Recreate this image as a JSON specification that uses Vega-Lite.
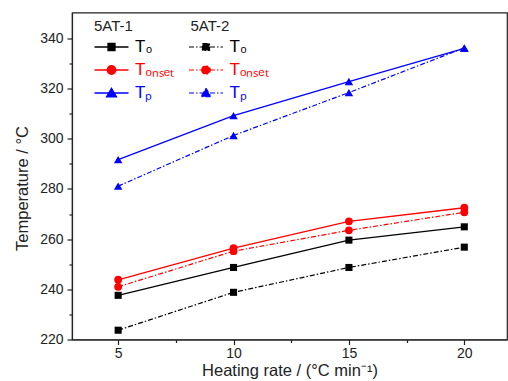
{
  "$schema": "https://vega.github.io/schema/vega-lite/v6.json",
  "width": 435,
  "height": 327,
  "autosize": "none",
  "padding": {"left": 72, "top": 12.5, "right": 1, "bottom": 41.5},
  "background": "white",
  "config": {
    "font": "Liberation Sans",
    "view": {"stroke": "#222", "strokeWidth": 1.2},
    "axis": {"grid": false, "domainColor": "#222", "tickColor": "#222", "labelColor": "#222", "titleColor": "#222", "domainWidth": 1.2, "tickWidth": 1.2, "labelFont": "Liberation Sans", "titleFont": "Liberation Sans", "titleFontWeight": "normal"},
    "legend": {"titleFont": "Liberation Sans", "titleFontWeight": 400, "labelFont": "Liberation Sans"}
  },
  "data": {
    "values": [
      {"rate": 5, "param": "T0", "sample": "5AT-1", "temp": 237.6},
      {"rate": 10, "param": "T0", "sample": "5AT-1", "temp": 248.7},
      {"rate": 15, "param": "T0", "sample": "5AT-1", "temp": 259.6},
      {"rate": 20, "param": "T0", "sample": "5AT-1", "temp": 264.9},
      {"rate": 5, "param": "Tonset", "sample": "5AT-1", "temp": 243.8},
      {"rate": 10, "param": "Tonset", "sample": "5AT-1", "temp": 256.4},
      {"rate": 15, "param": "Tonset", "sample": "5AT-1", "temp": 267.1},
      {"rate": 20, "param": "Tonset", "sample": "5AT-1", "temp": 272.5},
      {"rate": 5, "param": "Tp", "sample": "5AT-1", "temp": 291.7},
      {"rate": 10, "param": "Tp", "sample": "5AT-1", "temp": 309.2},
      {"rate": 15, "param": "Tp", "sample": "5AT-1", "temp": 322.8},
      {"rate": 20, "param": "Tp", "sample": "5AT-1", "temp": 336.0},
      {"rate": 5, "param": "T0", "sample": "5AT-2", "temp": 223.7},
      {"rate": 10, "param": "T0", "sample": "5AT-2", "temp": 238.8},
      {"rate": 15, "param": "T0", "sample": "5AT-2", "temp": 248.7},
      {"rate": 20, "param": "T0", "sample": "5AT-2", "temp": 256.8},
      {"rate": 5, "param": "Tonset", "sample": "5AT-2", "temp": 241.0},
      {"rate": 10, "param": "Tonset", "sample": "5AT-2", "temp": 255.2},
      {"rate": 15, "param": "Tonset", "sample": "5AT-2", "temp": 263.5},
      {"rate": 20, "param": "Tonset", "sample": "5AT-2", "temp": 270.7},
      {"rate": 5, "param": "Tp", "sample": "5AT-2", "temp": 281.1},
      {"rate": 10, "param": "Tp", "sample": "5AT-2", "temp": 301.3},
      {"rate": 15, "param": "Tp", "sample": "5AT-2", "temp": 318.4},
      {"rate": 20, "param": "Tp", "sample": "5AT-2", "temp": 336.2}
    ]
  },
  "encoding": {
    "x": {
      "field": "rate", "type": "quantitative",
      "scale": {"domain": [3, 21.85], "nice": false, "zero": false},
      "axis": {
        "values": [5, 7.5, 10, 12.5, 15, 17.5, 20],
        "tickSize": {"condition": {"test": "datum.value % 5 === 0", "value": 5}, "value": 3},
        "labelExpr": "datum.value % 5 === 0 ? datum.label : ''",
        "labelFontSize": 14, "labelPadding": 2,
        "title": "Heating rate / (°C min⁻¹)", "titleFontSize": 16.5, "titlePadding": 2
      }
    },
    "y": {
      "field": "temp", "type": "quantitative",
      "scale": {"domain": [220, 350.3], "nice": false, "zero": false},
      "axis": {
        "values": [220, 230, 240, 250, 260, 270, 280, 290, 300, 310, 320, 330, 340],
        "tickSize": {"condition": {"test": "datum.value % 20 === 0", "value": 5}, "value": 3},
        "labelExpr": "datum.value % 20 === 0 ? datum.label : ''",
        "labelFontSize": 14, "labelPadding": 4,
        "title": "Temperature / °C", "titleFontSize": 16.5, "titlePadding": 9, "titleY": 175.5
      }
    }
  },
  "layer": [
    {
      "transform": [{"filter": "datum.sample === '5AT-1'"}],
      "mark": {"type": "line", "strokeWidth": 1.3},
      "encoding": {
        "color": {
          "field": "param", "type": "nominal",
          "scale": {"domain": ["T0", "Tonset", "Tp"], "range": ["#000000", "#ff0000", "#0000ff"]},
          "legend": {
            "orient": "none", "legendX": 22, "legendY": 6, "padding": 0,
            "title": "5AT-1", "titleFontSize": 15, "titleFontWeight": 400, "titleColor": "#222", "titlePadding": 5,
            "labelFontSize": 17, "labelOffset": 15, "symbolOffset": 9, "symbolSize": 100, "rowPadding": 5,
            "labelExpr": "datum.value === 'T0' ? 'T₀' : datum.value === 'Tonset' ? 'Tₒₙₛₑₜ' : 'Tₚ'",
            "encode": {
              "symbols": {"update": {
                "shape": {"signal": "datum.value === 'T0' ? 'M-3.4,0H3.4M-0.7,-0.7H0.7V0.7H-0.7Z' : datum.value === 'Tonset' ? 'M-3.4,0H3.4M-0.85,0A0.85,0.85,0,1,1,0.85,0A0.85,0.85,0,1,1,-0.85,0Z' : 'M-3.4,0H3.4M0,-0.95L1,0.75H-1Z'"},
                "fill": {"signal": "datum.value === 'T0' ? '#000000' : datum.value === 'Tonset' ? '#ff0000' : '#0000ff'"},
                "stroke": {"signal": "datum.value === 'T0' ? '#000000' : datum.value === 'Tonset' ? '#ff0000' : '#0000ff'"},
                "strokeWidth": {"value": 1.3},
                "strokeDash": {"value": []},
                "size": {"value": 100},
                "opacity": {"value": 1}
              }},
              "labels": {"update": {
                "fill": {"signal": "datum.value === 'T0' ? '#000000' : datum.value === 'Tonset' ? '#ff0000' : '#0000ff'"}
              }}
            }
          }
        }
      }
    },
    {
      "transform": [{"filter": "datum.sample === '5AT-1'"}],
      "mark": {"type": "point", "filled": true, "opacity": 1},
      "encoding": {
        "color": {"field": "param", "type": "nominal", "scale": {"domain": ["T0", "Tonset", "Tp"], "range": ["#000000", "#ff0000", "#0000ff"]}, "legend": null},
        "shape": {"field": "param", "type": "nominal", "scale": {"domain": ["T0", "Tonset", "Tp"], "range": ["square", "circle", "triangle-up"]}, "legend": null},
        "size": {"field": "param", "type": "nominal", "scale": {"domain": ["T0", "Tonset", "Tp"], "range": [50, 72, 75]}, "legend": null}
      }
    },
    {
      "transform": [{"filter": "datum.sample === '5AT-2'"}],
      "mark": {"type": "line", "strokeWidth": 1.2, "strokeDash": [5, 2, 1.5, 2]},
      "encoding": {
        "color": {
          "field": "param", "type": "nominal",
          "scale": {"domain": ["T0", "Tonset", "Tp"], "range": ["#000000", "#ff0000", "#0000ff"]},
          "legend": {
            "orient": "none", "legendX": 118.5, "legendY": 6, "padding": 0,
            "title": "5AT-2", "titleFontSize": 15, "titleFontWeight": 400, "titleColor": "#222", "titlePadding": 5,
            "labelFontSize": 17, "labelOffset": 15, "symbolOffset": 7, "symbolSize": 100, "rowPadding": 5,
            "labelExpr": "datum.value === 'T0' ? 'T₀' : datum.value === 'Tonset' ? 'Tₒₙₛₑₜ' : 'Tₚ'",
            "encode": {
              "symbols": {"update": {
                "shape": {"signal": "datum.value === 'T0' ? 'M-3.4,0H3.4M-0.7,-0.7H0.7V0.7H-0.7Z' : datum.value === 'Tonset' ? 'M-3.4,0H3.4M-0.85,0A0.85,0.85,0,1,1,0.85,0A0.85,0.85,0,1,1,-0.85,0Z' : 'M-3.4,0H3.4M0,-0.95L1,0.75H-1Z'"},
                "fill": {"signal": "datum.value === 'T0' ? '#000000' : datum.value === 'Tonset' ? '#ff0000' : '#0000ff'"},
                "stroke": {"signal": "datum.value === 'T0' ? '#000000' : datum.value === 'Tonset' ? '#ff0000' : '#0000ff'"},
                "strokeWidth": {"value": 1.2},
                "strokeDash": {"value": [5, 2, 1.5, 2]},
                "size": {"value": 100},
                "opacity": {"value": 1}
              }},
              "labels": {"update": {
                "fill": {"signal": "datum.value === 'T0' ? '#000000' : datum.value === 'Tonset' ? '#ff0000' : '#0000ff'"}
              }}
            }
          }
        }
      }
    },
    {
      "transform": [{"filter": "datum.sample === '5AT-2'"}],
      "mark": {"type": "point", "filled": true, "opacity": 1},
      "encoding": {
        "color": {"field": "param", "type": "nominal", "scale": {"domain": ["T0", "Tonset", "Tp"], "range": ["#000000", "#ff0000", "#0000ff"]}, "legend": null},
        "shape": {"field": "param", "type": "nominal", "scale": {"domain": ["T0", "Tonset", "Tp"], "range": ["square", "circle", "triangle-up"]}, "legend": null},
        "size": {"field": "param", "type": "nominal", "scale": {"domain": ["T0", "Tonset", "Tp"], "range": [50, 72, 75]}, "legend": null}
      }
    }
  ],
  "resolve": {"scale": {"color": "independent"}, "legend": {"color": "independent"}}
}
